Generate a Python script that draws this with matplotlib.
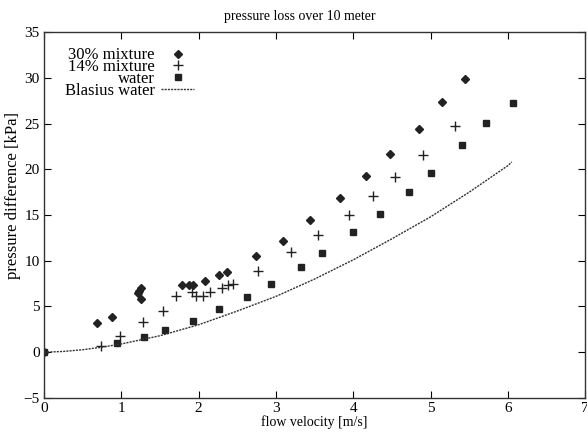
import matplotlib
matplotlib.use("Agg")
import matplotlib.pyplot as plt

plt.rcParams['font.family'] = ['Liberation Serif', 'DejaVu Serif']

mix30_x = [0.0, 0.69, 0.88, 1.21, 1.23, 1.25, 1.26, 1.79, 1.87, 1.93, 2.08, 2.26, 2.37,
           2.74, 3.09, 3.44, 3.83, 4.16, 4.47, 4.85, 5.15, 5.45]
mix30_y = [0.0, 3.2, 3.8, 6.5, 6.7, 7.0, 5.8, 7.3, 7.3, 7.3, 7.8, 8.4, 8.8,
           10.5, 12.2, 14.4, 16.9, 19.3, 21.7, 24.4, 27.4, 29.9]

mix14_x = [0.74, 0.98, 1.28, 1.54, 1.71, 1.91, 1.97, 2.05, 2.15, 2.30, 2.38, 2.44,
           2.77, 3.19, 3.55, 3.94, 4.25, 4.54, 4.90, 5.32]
mix14_y = [0.7, 1.8, 3.3, 4.5, 6.1, 6.6, 6.1, 6.1, 6.6, 7.0, 7.4, 7.5,
           8.9, 10.9, 12.8, 15.0, 17.1, 19.1, 21.6, 24.7]

water_x = [0.0, 0.94, 1.29, 1.57, 1.93, 2.26, 2.62, 2.94, 3.32, 3.60, 4.00, 4.34,
           4.72, 5.00, 5.40, 5.72, 6.06]
water_y = [0.0, 1.0, 1.7, 2.4, 3.4, 4.7, 6.0, 7.5, 9.3, 10.8, 13.1, 15.1,
           17.5, 19.6, 22.7, 25.1, 27.2]

blasius_x = [0.0, 0.25, 0.5, 0.75, 1.0, 1.5, 2.0, 2.5, 3.0, 3.5, 4.0, 4.5, 5.0, 5.5, 6.0, 6.05]
blasius_y = [0.0, 0.08, 0.27, 0.55, 0.9, 1.8, 3.0, 4.5, 6.1, 8.0, 10.1, 12.4, 14.8, 17.5, 20.4, 20.8]

xticks = [0, 1, 2, 3, 4, 5, 6, 7]
yticks = [-5, 0, 5, 10, 15, 20, 25, 30, 35]

fig = plt.figure(figsize=(5.87, 4.33), dpi=100)
ax = fig.add_axes([0.075, 0.081, 0.922, 0.845])

ax.plot(mix30_x, mix30_y, linestyle='none', marker='D', markersize=3.8,
        color='#222222', label='30% mixture')
ax.plot(mix14_x, mix14_y, linestyle='none', marker='+', markersize=7, markeredgewidth=1.0,
        color='#222222', label='14% mixture')
ax.plot(water_x, water_y, linestyle='none', marker='s', markersize=3.8,
        color='#222222', label='water')
ax.plot(blasius_x, blasius_y, linestyle=(0, (1.5, 0.8)), linewidth=1.0,
        color='#333333', label='Blasius water')

ax.set_xlim(0, 7)
ax.set_ylim(-5, 35)
ax.set_xticks(xticks)
ax.set_yticks(yticks)
ax.tick_params(direction='in', top=True, right=True, length=5, labelsize=11, pad=3)
for s in ax.spines.values():
    s.set_linewidth(1.0)
    s.set_color('#333333')

ax.set_title('pressure loss over 10 meter', fontsize=10, pad=9, x=0.472)
ax.set_xlabel('flow velocity [m/s]', fontsize=10, labelpad=0)
ax.set_ylabel('pressure difference [kPa]', fontsize=12)
ax.yaxis.set_label_coords(-0.043, 0.552)

leg = ax.legend(loc='upper left', bbox_to_anchor=(0.017, 0.99), markerfirst=False,
                frameon=False, fontsize=12, handlelength=2.0, handletextpad=0.36,
                labelspacing=-0.25, borderaxespad=0.3)
for t in leg.get_texts():
    t.set_ha('right')
leg._legend_box.align = 'right'

fig.savefig('out.png', dpi=100)
